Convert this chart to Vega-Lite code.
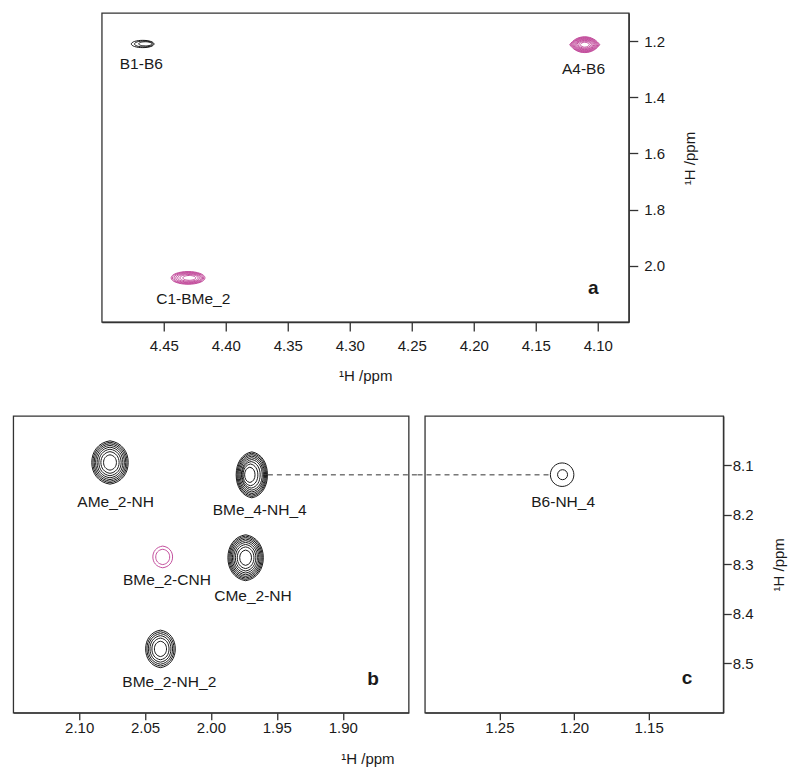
{
  "$schema": "https://vega.github.io/schema/vega-lite/v6.json",
  "background": "white",
  "padding": {"left": 12, "top": 12, "right": 5, "bottom": 5},
  "config": {
    "font": "Liberation Sans",
    "view": {"stroke": "#333333", "strokeWidth": 1.3},
    "axis": {
      "grid": false,
      "labelFont": "Liberation Sans",
      "labelFontSize": 15,
      "labelColor": "#1a1a1a",
      "titleFont": "Liberation Sans",
      "titleFontSize": 15,
      "titleFontWeight": "normal",
      "titleColor": "#1a1a1a",
      "tickColor": "#333333",
      "domainColor": "#333333",
      "tickSize": 9,
      "tickWidth": 1.3,
      "domainWidth": 1.3
    },
    "axisBottom": {"labelPadding": 7, "titlePadding": 15.5},
    "axisRight": {"labelPadding": 4, "titlePadding": 33, "titleAngle": 270},
    "text": {"font": "Liberation Sans", "fontSize": 15.5, "color": "#1a1a1a"}
  },
  "datasets": {
    "rings": [
      {"panel": "a", "peak": "B1-B6", "phase": "positive", "x": 4.467, "y": 1.2103, "level": 3},
      {"panel": "a", "peak": "B1-B6", "phase": "positive", "x": 4.4661, "y": 1.2103, "level": 2},
      {"panel": "a", "peak": "B1-B6", "phase": "positive", "x": 4.4649, "y": 1.2098, "level": 1},
      {"panel": "a", "peak": "A4-B6", "phase": "negative", "x": 4.1105, "y": 1.2128, "level": 10},
      {"panel": "a", "peak": "A4-B6", "phase": "negative", "x": 4.1105, "y": 1.2128, "level": 9},
      {"panel": "a", "peak": "A4-B6", "phase": "negative", "x": 4.1105, "y": 1.2128, "level": 8},
      {"panel": "a", "peak": "A4-B6", "phase": "negative", "x": 4.1105, "y": 1.2128, "level": 7},
      {"panel": "a", "peak": "A4-B6", "phase": "negative", "x": 4.1105, "y": 1.2128, "level": 6},
      {"panel": "a", "peak": "A4-B6", "phase": "negative", "x": 4.1105, "y": 1.2128, "level": 5},
      {"panel": "a", "peak": "A4-B6", "phase": "negative", "x": 4.1105, "y": 1.2128, "level": 4},
      {"panel": "a", "peak": "A4-B6", "phase": "negative", "x": 4.1105, "y": 1.2128, "level": 3},
      {"panel": "a", "peak": "A4-B6", "phase": "negative", "x": 4.1105, "y": 1.2128, "level": 2},
      {"panel": "a", "peak": "A4-B6", "phase": "negative", "x": 4.1105, "y": 1.2128, "level": 1},
      {"panel": "a", "peak": "C1-BMe_2", "phase": "negative", "x": 4.4304, "y": 2.043, "level": 7},
      {"panel": "a", "peak": "C1-BMe_2", "phase": "negative", "x": 4.4304, "y": 2.043, "level": 6},
      {"panel": "a", "peak": "C1-BMe_2", "phase": "negative", "x": 4.4302, "y": 2.043, "level": 5},
      {"panel": "a", "peak": "C1-BMe_2", "phase": "negative", "x": 4.4300, "y": 2.043, "level": 4},
      {"panel": "a", "peak": "C1-BMe_2", "phase": "negative", "x": 4.4298, "y": 2.043, "level": 3},
      {"panel": "a", "peak": "C1-BMe_2", "phase": "negative", "x": 4.4296, "y": 2.043, "level": 2},
      {"panel": "a", "peak": "C1-BMe_2", "phase": "negative", "x": 4.4294, "y": 2.043, "level": 1},
      {"panel": "b", "peak": "AMe_2-NH", "phase": "positive", "x": 2.0766, "y": 8.094, "level": 8},
      {"panel": "b", "peak": "AMe_2-NH", "phase": "positive", "x": 2.0766, "y": 8.094, "level": 7},
      {"panel": "b", "peak": "AMe_2-NH", "phase": "positive", "x": 2.0766, "y": 8.094, "level": 6},
      {"panel": "b", "peak": "AMe_2-NH", "phase": "positive", "x": 2.0766, "y": 8.094, "level": 5},
      {"panel": "b", "peak": "AMe_2-NH", "phase": "positive", "x": 2.0766, "y": 8.094, "level": 4},
      {"panel": "b", "peak": "AMe_2-NH", "phase": "positive", "x": 2.0766, "y": 8.094, "level": 3},
      {"panel": "b", "peak": "AMe_2-NH", "phase": "positive", "x": 2.0766, "y": 8.094, "level": 2},
      {"panel": "b", "peak": "AMe_2-NH", "phase": "positive", "x": 2.0766, "y": 8.094, "level": 1},
      {"panel": "b", "peak": "BMe_4-NH_4", "phase": "positive", "x": 1.969, "y": 8.119, "level": 9},
      {"panel": "b", "peak": "BMe_4-NH_4", "phase": "positive", "x": 1.969, "y": 8.119, "level": 8},
      {"panel": "b", "peak": "BMe_4-NH_4", "phase": "positive", "x": 1.969, "y": 8.119, "level": 7},
      {"panel": "b", "peak": "BMe_4-NH_4", "phase": "positive", "x": 1.969, "y": 8.119, "level": 6},
      {"panel": "b", "peak": "BMe_4-NH_4", "phase": "positive", "x": 1.969, "y": 8.119, "level": 5},
      {"panel": "b", "peak": "BMe_4-NH_4", "phase": "positive", "x": 1.969, "y": 8.119, "level": 4},
      {"panel": "b", "peak": "BMe_4-NH_4", "phase": "positive", "x": 1.9695, "y": 8.119, "level": 3},
      {"panel": "b", "peak": "BMe_4-NH_4", "phase": "positive", "x": 1.970, "y": 8.119, "level": 2},
      {"panel": "b", "peak": "BMe_4-NH_4", "phase": "positive", "x": 1.9705, "y": 8.119, "level": 1},
      {"panel": "b", "peak": "CMe_2-NH", "phase": "positive", "x": 1.9737, "y": 8.2866, "level": 9},
      {"panel": "b", "peak": "CMe_2-NH", "phase": "positive", "x": 1.9737, "y": 8.2866, "level": 8},
      {"panel": "b", "peak": "CMe_2-NH", "phase": "positive", "x": 1.9737, "y": 8.2866, "level": 7},
      {"panel": "b", "peak": "CMe_2-NH", "phase": "positive", "x": 1.9737, "y": 8.2866, "level": 6},
      {"panel": "b", "peak": "CMe_2-NH", "phase": "positive", "x": 1.9737, "y": 8.2866, "level": 5},
      {"panel": "b", "peak": "CMe_2-NH", "phase": "positive", "x": 1.9737, "y": 8.2866, "level": 4},
      {"panel": "b", "peak": "CMe_2-NH", "phase": "positive", "x": 1.9737, "y": 8.2866, "level": 3},
      {"panel": "b", "peak": "CMe_2-NH", "phase": "positive", "x": 1.9737, "y": 8.2866, "level": 2},
      {"panel": "b", "peak": "CMe_2-NH", "phase": "positive", "x": 1.9737, "y": 8.2866, "level": 1},
      {"panel": "b", "peak": "BMe_2-CNH", "phase": "negative", "x": 2.0366, "y": 8.285, "level": 2},
      {"panel": "b", "peak": "BMe_2-CNH", "phase": "negative", "x": 2.0366, "y": 8.285, "level": 1},
      {"panel": "b", "peak": "BMe_2-NH_2", "phase": "positive", "x": 2.0383, "y": 8.471, "level": 6},
      {"panel": "b", "peak": "BMe_2-NH_2", "phase": "positive", "x": 2.0383, "y": 8.471, "level": 5},
      {"panel": "b", "peak": "BMe_2-NH_2", "phase": "positive", "x": 2.0383, "y": 8.471, "level": 4},
      {"panel": "b", "peak": "BMe_2-NH_2", "phase": "positive", "x": 2.0383, "y": 8.471, "level": 3},
      {"panel": "b", "peak": "BMe_2-NH_2", "phase": "positive", "x": 2.0383, "y": 8.471, "level": 2},
      {"panel": "b", "peak": "BMe_2-NH_2", "phase": "positive", "x": 2.0383, "y": 8.471, "level": 1},
      {"panel": "c", "peak": "B6-NH_4", "phase": "positive", "x": 1.208, "y": 8.1187, "level": 2},
      {"panel": "c", "peak": "B6-NH_4", "phase": "positive", "x": 1.2077, "y": 8.1187, "level": 1}
    ],
    "labels": [
      {"panel": "a", "label": "B1-B6", "x": 4.4681, "y": 1.2815},
      {"panel": "a", "label": "A4-B6", "x": 4.1115, "y": 1.2982},
      {"panel": "a", "label": "C1-BMe_2", "x": 4.4262, "y": 2.1178},
      {"panel": "b", "label": "AMe_2-NH", "x": 2.0723, "y": 8.1731},
      {"panel": "b", "label": "BMe_4-NH_4", "x": 1.963, "y": 8.1905},
      {"panel": "b", "label": "CMe_2-NH", "x": 1.9681, "y": 8.3636},
      {"panel": "b", "label": "BMe_2-CNH", "x": 2.0334, "y": 8.3313},
      {"panel": "b", "label": "BMe_2-NH_2", "x": 2.0316, "y": 8.5388},
      {"panel": "c", "label": "B6-NH_4", "x": 1.2073, "y": 8.1737}
    ],
    "letters": [
      {"panel": "a", "letter": "a", "x": 4.1036, "y": 2.0776},
      {"panel": "b", "letter": "b", "x": 1.877, "y": 8.531},
      {"panel": "c", "letter": "c", "x": 1.1243, "y": 8.529}
    ],
    "links": [
      {"panel": "b", "x": 1.9568, "x2": 1.8437, "y": 8.119},
      {"panel": "c", "x": 1.3049, "x2": 1.2164, "y": 8.119}
    ]
  },
  "vconcat": [
    {
      "width": 527,
      "height": 309,
      "layer": [
        {
          "data": {"name": "rings"},
          "transform": [{"filter": "datum.panel === 'a'"}],
          "mark": {"type": "point", "filled": false, "strokeWidth": 1, "opacity": 1},
          "encoding": {
            "x": {"field": "x", "type": "quantitative", "scale": {"domain": [4.075, 4.5], "reverse": true, "nice": false, "zero": false},
              "axis": {"values": [4.45, 4.4, 4.35, 4.3, 4.25, 4.2, 4.15, 4.1], "format": ".2f", "title": "¹H /ppm"}},
            "y": {"field": "y", "type": "quantitative", "scale": {"domain": [1.1, 2.2], "reverse": true, "nice": false, "zero": false},
              "axis": {"orient": "right", "values": [1.2, 1.4, 1.6, 1.8, 2.0], "format": ".1f", "title": "¹H /ppm", "labelPadding": 6, "titleY": 145}},
            "shape": {"field": "peak", "type": "nominal", "legend": null,
              "scale": {"domain": ["B1-B6", "A4-B6", "C1-BMe_2"],
                "range": [
                  "M 1.31 0 C 1.31 0.232 0.723 0.42 0 0.42 C -0.723 0.42 -1.31 0.232 -1.31 0 C -1.31 -0.232 -0.723 -0.42 0 -0.42 C 0.723 -0.42 1.31 -0.232 1.31 0 Z",
                  "M -0.95 0 C -0.76 -0.275 -0.43 -0.5 0 -0.5 C 0.43 -0.5 0.76 -0.275 0.95 0 C 0.76 0.275 0.43 0.5 0 0.5 C -0.43 0.5 -0.76 0.275 -0.95 0 Z",
                  "M 1.28 0 C 1.28 0.265 0.707 0.48 0 0.48 C -0.707 0.48 -1.28 0.265 -1.28 0 C -1.28 -0.265 -0.707 -0.48 0 -0.48 C 0.707 -0.48 1.28 -0.265 1.28 0 Z"
                ]}},
            "size": {"field": "level", "type": "quantitative", "legend": null, "scale": {"domain": [0, 10], "range": [0, 1000]}},
            "color": {"field": "phase", "type": "nominal", "legend": null, "scale": {"domain": ["positive", "negative"], "range": ["#1a1a1a", "#c4509e"]}}
          }
        },
        {
          "data": {"name": "labels"},
          "transform": [{"filter": "datum.panel === 'a'"}],
          "mark": {"type": "text", "align": "center", "baseline": "middle"},
          "encoding": {
            "x": {"field": "x", "type": "quantitative"},
            "y": {"field": "y", "type": "quantitative"},
            "text": {"field": "label"}
          }
        },
        {
          "data": {"name": "letters"},
          "transform": [{"filter": "datum.panel === 'a'"}],
          "mark": {"type": "text", "align": "center", "baseline": "middle", "fontSize": 19, "fontWeight": "bold"},
          "encoding": {
            "x": {"field": "x", "type": "quantitative"},
            "y": {"field": "y", "type": "quantitative"},
            "text": {"field": "letter"}
          }
        }
      ]
    },
    {
      "spacing": 15.6,
      "bounds": "flush",
      "resolve": {"scale": {"shape": "independent", "size": "independent"}},
      "hconcat": [
        {
          "width": 395.4,
          "height": 296.7,
          "layer": [
            {
              "data": {"name": "rings"},
              "transform": [{"filter": "datum.panel === 'b'"}],
              "mark": {"type": "point", "filled": false, "strokeWidth": 1, "opacity": 1},
              "encoding": {
                "x": {"field": "x", "type": "quantitative", "scale": {"domain": [1.85, 2.15], "reverse": true, "nice": false, "zero": false},
                  "axis": {"values": [2.1, 2.05, 2.0, 1.95, 1.9], "format": ".2f", "title": "¹H /ppm", "titleX": 354.2, "titleAlign": "center", "tickSize": 7, "labelPadding": 1}},
                "y": {"field": "y", "type": "quantitative", "scale": {"domain": [8.0, 8.6], "reverse": true, "nice": false, "zero": false}, "axis": null},
                "shape": {"field": "peak", "type": "nominal", "legend": null,
                  "scale": {"domain": ["AMe_2-NH", "BMe_4-NH_4", "CMe_2-NH", "BMe_2-CNH", "BMe_2-NH_2"],
                    "range": [
                      "M 0 -1 C 0.546 -0.92 0.84 -0.5 0.84 0 C 0.84 0.5 0.546 0.92 0 1 C -0.546 0.92 -0.84 0.5 -0.84 0 C -0.84 -0.5 -0.546 -0.92 0 -1 Z",
                      "M 0 -1 C 0.442 -0.92 0.68 -0.5 0.68 0 C 0.68 0.5 0.442 0.92 0 1 C -0.442 0.92 -0.68 0.5 -0.68 0 C -0.68 -0.5 -0.442 -0.92 0 -1 Z",
                      "M 0 -1 C 0.5 -0.92 0.77 -0.5 0.77 0 C 0.77 0.5 0.5 0.92 0 1 C -0.5 0.92 -0.77 0.5 -0.77 0 C -0.77 -0.5 -0.5 -0.92 0 -1 Z",
                      "M 0 -1 C 0.59 -0.92 0.91 -0.5 0.91 0 C 0.91 0.5 0.59 0.92 0 1 C -0.59 0.92 -0.91 0.5 -0.91 0 C -0.91 -0.5 -0.59 -0.92 0 -1 Z",
                      "M 0 -1 C 0.513 -0.92 0.79 -0.5 0.79 0 C 0.79 0.5 0.513 0.92 0 1 C -0.513 0.92 -0.79 0.5 -0.79 0 C -0.79 -0.5 -0.513 -0.92 0 -1 Z"
                    ]}},
                "size": {"field": "level", "type": "quantitative", "legend": null, "scale": {"domain": [0, 9], "range": [0, 2115]}},
                "color": {"field": "phase", "type": "nominal", "legend": null, "scale": {"domain": ["positive", "negative"], "range": ["#1a1a1a", "#c4509e"]}}
              }
            },
            {
              "data": {"name": "links"},
              "transform": [{"filter": "datum.panel === 'b'"}],
              "mark": {"type": "rule", "strokeDash": [5, 4], "color": "#333333", "strokeWidth": 1, "clip": false},
              "encoding": {
                "x": {"field": "x", "type": "quantitative"},
                "x2": {"field": "x2"},
                "y": {"field": "y", "type": "quantitative"}
              }
            },
            {
              "data": {"name": "labels"},
              "transform": [{"filter": "datum.panel === 'b'"}],
              "mark": {"type": "text", "align": "center", "baseline": "middle"},
              "encoding": {
                "x": {"field": "x", "type": "quantitative"},
                "y": {"field": "y", "type": "quantitative"},
                "text": {"field": "label"}
              }
            },
            {
              "data": {"name": "letters"},
              "transform": [{"filter": "datum.panel === 'b'"}],
              "mark": {"type": "text", "align": "center", "baseline": "middle", "fontSize": 19, "fontWeight": "bold"},
              "encoding": {
                "x": {"field": "x", "type": "quantitative"},
                "y": {"field": "y", "type": "quantitative"},
                "text": {"field": "letter"}
              }
            }
          ]
        },
        {
          "width": 298.4,
          "height": 296.7,
          "layer": [
            {
              "data": {"name": "rings"},
              "transform": [{"filter": "datum.panel === 'c'"}],
              "mark": {"type": "point", "filled": false, "strokeWidth": 1, "opacity": 1},
              "encoding": {
                "x": {"field": "x", "type": "quantitative", "scale": {"domain": [1.1, 1.3], "reverse": true, "nice": false, "zero": false},
                  "axis": {"values": [1.25, 1.2, 1.15], "format": ".2f", "title": null, "tickSize": 7, "labelPadding": 1}},
                "y": {"field": "y", "type": "quantitative", "scale": {"domain": [8.0, 8.6], "reverse": true, "nice": false, "zero": false},
                  "axis": {"orient": "right", "values": [8.1, 8.2, 8.3, 8.4, 8.5], "format": ".1f", "title": "¹H /ppm", "labelPadding": 1, "tickSize": 8}},
                "shape": {"field": "peak", "type": "nominal", "legend": null,
                  "scale": {"domain": ["B6-NH_4"],
                    "range": ["M 1 0 C 1 0.552 0.552 1 0 1 C -0.552 1 -1 0.552 -1 0 C -1 -0.552 -0.552 -1 0 -1 C 0.552 -1 1 -0.552 1 0 Z"]}},
                "size": {"field": "level", "type": "quantitative", "legend": null, "scale": {"domain": [1, 2], "range": [100, 552], "zero": false}},
                "color": {"field": "phase", "type": "nominal", "legend": null, "scale": {"domain": ["positive", "negative"], "range": ["#1a1a1a", "#c4509e"]}}
              }
            },
            {
              "data": {"name": "links"},
              "transform": [{"filter": "datum.panel === 'c'"}],
              "mark": {"type": "rule", "strokeDash": [5, 4], "color": "#333333", "strokeWidth": 1, "clip": false},
              "encoding": {
                "x": {"field": "x", "type": "quantitative"},
                "x2": {"field": "x2"},
                "y": {"field": "y", "type": "quantitative"}
              }
            },
            {
              "data": {"name": "labels"},
              "transform": [{"filter": "datum.panel === 'c'"}],
              "mark": {"type": "text", "align": "center", "baseline": "middle"},
              "encoding": {
                "x": {"field": "x", "type": "quantitative"},
                "y": {"field": "y", "type": "quantitative"},
                "text": {"field": "label"}
              }
            },
            {
              "data": {"name": "letters"},
              "transform": [{"filter": "datum.panel === 'c'"}],
              "mark": {"type": "text", "align": "center", "baseline": "middle", "fontSize": 19, "fontWeight": "bold"},
              "encoding": {
                "x": {"field": "x", "type": "quantitative"},
                "y": {"field": "y", "type": "quantitative"},
                "text": {"field": "letter"}
              }
            }
          ]
        }
      ]
    }
  ],
  "resolve": {"scale": {"shape": "independent", "size": "independent"}},
  "spacing": 30,
  "center": true
}
